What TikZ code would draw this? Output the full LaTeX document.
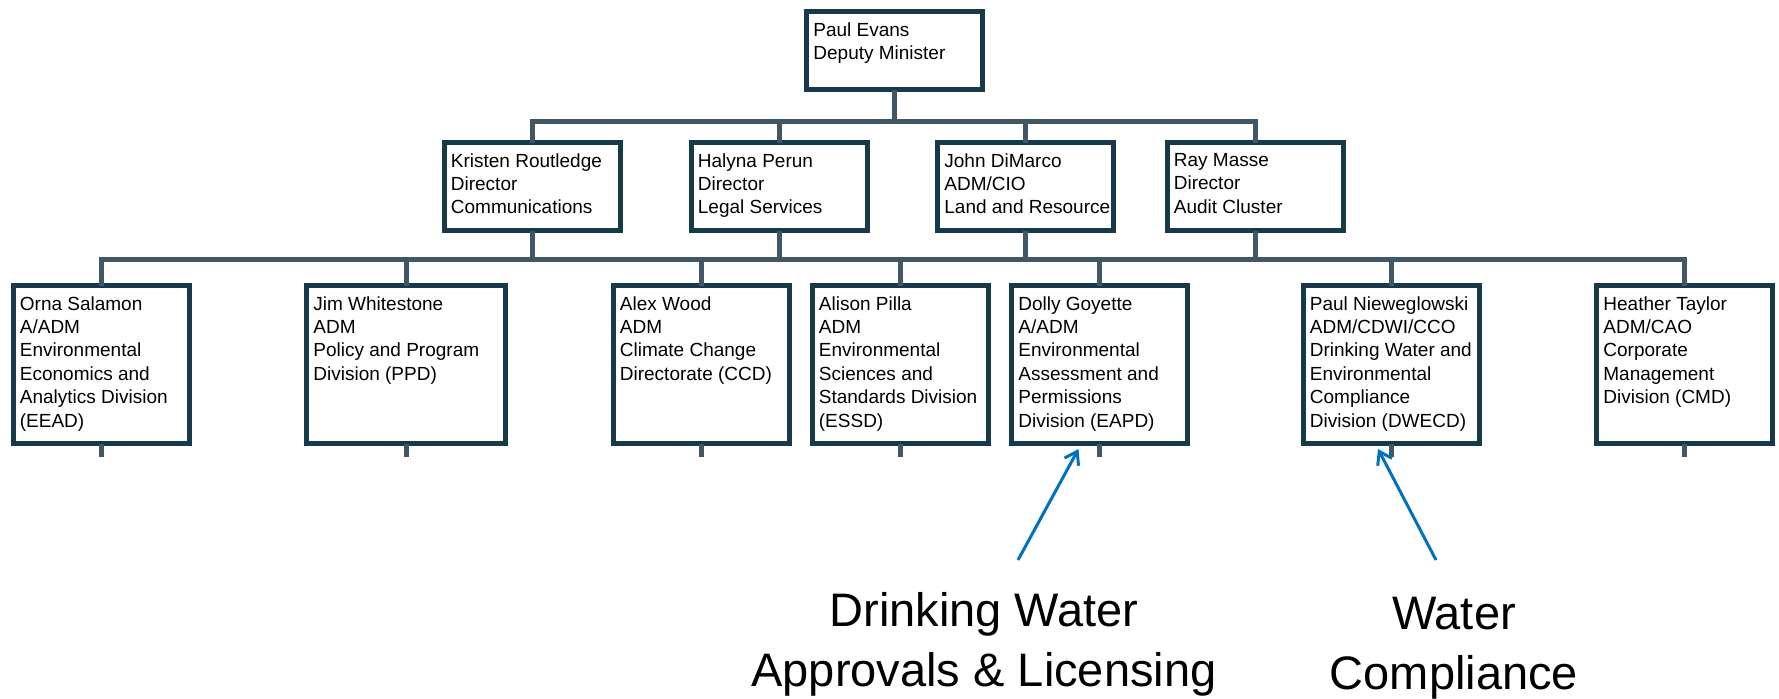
\documentclass[tikz,border=0pt]{standalone}
\usepackage{fontspec}
\setmainfont{Liberation Sans}
\usepackage{tikz}
\usetikzlibrary{arrows.meta,positioning,calc}
\definecolor{boxline}{HTML}{173A4A}
\definecolor{linkline}{HTML}{3F5766}
\definecolor{callout}{HTML}{0070C0}

\begin{document}
\begin{tikzpicture}[x = .5pt, y = -.5pt,
  unit/.style = {draw = boxline, line width = 2.5pt, inner sep = 0pt, minimum width = 88pt, minimum height = 79pt},
  tag/.style = {anchor = north west, xshift = 4.5pt, yshift = -6.5pt, inner sep = 0pt, align = left, font = \fontsize{9.5}{11.7}\selectfont},
  link/.style = {draw = linkline, line width = 2.5pt, line cap = rect},
  pointer/.style = {callout, line width = 1.5pt, -{Straight Barb[length = 6pt, width = 8pt]}},
  note/.style = {anchor = north, inner sep = 0pt, align = center, font = \fontsize{23.5}{30}\selectfont}]
\useasboundingbox (0,0) rectangle (1779,698);
\coordinate (bus1) at (0,121);
\coordinate (bus2) at (0,259);

\node[unit, minimum height = 39pt] (dm) at (894.5,50.5) {};
\node[tag] (dm-t) at (dm.north west) {Paul Evans\\Deputy Minister};

\node[unit, minimum height = 44pt] (kr) at (532,186.5) {};
\node[unit, minimum height = 44pt] (hp) at (779,186.5) {};
\node[unit, minimum height = 44pt] (jd) at (1025.5,186.5) {};
\node[unit, minimum height = 44pt] (rm) at (1255,186.5) {};
\node[tag] (kr-t) at (kr.north west) {Kristen Routledge\\Director\\Communications};
\node[tag] (hp-t) at (hp.north west) {Halyna Perun\\Director\\Legal Services};
\node[tag] (jd-t) at (jd.north west) {John DiMarco\\ADM/CIO\\Land and Resource};
\node[tag] (rm-t) at (rm.north west) {Ray Masse\\Director\\Audit Cluster};

\node[unit] (os) at (101,364.5) {};
\node[unit, minimum width = 99.5pt] (jw) at (406,364.5) {};
\node[unit] (aw) at (701,364.5) {};
\node[unit] (ap) at (900,364.5) {};
\node[unit] (dg) at (1099.5,364.5) {};
\node[unit] (pn) at (1391,364.5) {};
\node[unit] (ht) at (1684.5,364.5) {};
\node[tag] (os-t) at (os.north west) {Orna Salamon\\A/ADM\\Environmental\\Economics and\\Analytics Division\\(EEAD)};
\node[tag] (jw-t) at (jw.north west) {Jim Whitestone\\ADM\\Policy and Program\\Division (PPD)};
\node[tag] (aw-t) at (aw.north west) {Alex Wood\\ADM\\Climate Change\\Directorate (CCD)};
\node[tag] (ap-t) at (ap.north west) {Alison Pilla\\ADM\\Environmental\\Sciences and\\Standards Division\\(ESSD)};
\node[tag] (dg-t) at (dg.north west) {Dolly Goyette\\A/ADM\\Environmental\\Assessment and\\Permissions\\Division (EAPD)};
\node[tag] (pn-t) at (pn.north west) {Paul Nieweglowski\\ADM/CDWI/CCO\\Drinking Water and\\Environmental\\Compliance\\Division (DWECD)};
\node[tag] (ht-t) at (ht.north west) {Heather Taylor\\ADM/CAO\\Corporate\\Management\\Division (CMD)};

\draw[link] (dm.south) -- (dm.south |- bus1);
\draw[link] (kr.north |- bus1) -- (rm.north |- bus1);
\foreach \n in {kr,hp,jd,rm} {
  \draw[link] (\n.north) -- (\n.north |- bus1);
  \draw[link] (\n.south) -- (\n.south |- bus2);
}
\draw[link] (os.north |- bus2) -- (ht.north |- bus2);
\foreach \n in {os,jw,aw,ap,dg,pn,ht} {
  \draw[link] (\n.north) -- (\n.north |- bus2);
  \draw[link] (\n.south) -- ++(0,8);
}

\node[note] (dw) at (984,592) {Drinking Water\\Approvals \& Licensing};
\node[note] (wc) at (1454,597) {Water\\Compliance};
\draw[pointer] ([xshift = 17pt, yshift = 16pt]dw.north) -- ([xshift = -10.5pt, yshift = -1.5pt]dg.south);
\draw[pointer] ([xshift = -9pt, yshift = 18.5pt]wc.north) -- ([xshift = -6.5pt, yshift = -1.5pt]pn.south);
\end{tikzpicture}
\end{document}
